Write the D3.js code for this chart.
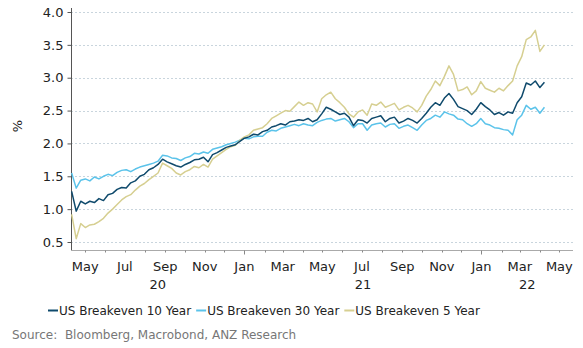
<!DOCTYPE html>
<html>
<head>
<meta charset="utf-8">
<script src="https://cdn.jsdelivr.net/npm/d3@7"></script>
<style>
	body { margin: 0; background: #fff; }
	svg { display: block; font-family: "DejaVu Sans", Verdana, sans-serif; }
</style>
</head>
<body>
<div id="chart"></div>
<script>
///////////////////////////////////////////////////////////////////////////
//////////////////////////// data /////////////////////////////////////////
///////////////////////////////////////////////////////////////////////////

// weekly observations, first one on 10 Apr 2020
const startDate = new Date(2020, 3, 10);

const be10 = [
	1.27, 0.97, 1.12, 1.08, 1.12, 1.10, 1.16, 1.13, 1.22, 1.24,
	1.30, 1.33, 1.32, 1.40, 1.43, 1.50, 1.53, 1.60, 1.63, 1.68,
	1.76, 1.72, 1.69, 1.66, 1.64, 1.68, 1.71, 1.75, 1.76, 1.79,
	1.72, 1.83, 1.86, 1.90, 1.94, 1.96, 1.98, 2.03, 2.08, 2.10,
	2.14, 2.13, 2.18, 2.20, 2.25, 2.27, 2.30, 2.28, 2.33, 2.34,
	2.36, 2.35, 2.38, 2.33, 2.36, 2.45, 2.55, 2.52, 2.48, 2.44,
	2.46, 2.40, 2.27, 2.36, 2.35, 2.31, 2.38, 2.40, 2.42, 2.33,
	2.38, 2.40, 2.31, 2.34, 2.38, 2.35, 2.31, 2.38, 2.46, 2.55,
	2.62, 2.58, 2.69, 2.76, 2.67, 2.56, 2.53, 2.50, 2.44, 2.52,
	2.62, 2.56, 2.51, 2.44, 2.47, 2.43, 2.48, 2.46, 2.62, 2.71,
	2.92, 2.89, 2.95, 2.85, 2.93
];

const be30 = [
	1.55, 1.32, 1.44, 1.46, 1.43, 1.49, 1.46, 1.50, 1.53, 1.51,
	1.56, 1.59, 1.60, 1.57, 1.61, 1.64, 1.66, 1.68, 1.70, 1.73,
	1.82, 1.81, 1.78, 1.77, 1.74, 1.78, 1.80, 1.85, 1.84, 1.87,
	1.85, 1.91, 1.93, 1.95, 1.98, 2.00, 2.02, 2.05, 2.08, 2.07,
	2.10, 2.11, 2.11, 2.17, 2.20, 2.19, 2.23, 2.25, 2.27, 2.29,
	2.27, 2.30, 2.28, 2.27, 2.32, 2.35, 2.37, 2.38, 2.34, 2.36,
	2.38, 2.33, 2.24, 2.30, 2.30, 2.20, 2.28, 2.30, 2.31, 2.25,
	2.29, 2.30, 2.23, 2.26, 2.28, 2.24, 2.20, 2.28, 2.35, 2.38,
	2.43, 2.40, 2.48, 2.45, 2.43, 2.37, 2.36, 2.30, 2.26, 2.30,
	2.38, 2.30, 2.28, 2.24, 2.23, 2.21, 2.20, 2.13, 2.36, 2.43,
	2.58, 2.52, 2.55, 2.46, 2.55
];

const be5 = [
	0.92, 0.55, 0.78, 0.72, 0.76, 0.77, 0.81, 0.86, 0.94, 1.00,
	1.07, 1.14, 1.19, 1.22, 1.29, 1.35, 1.39, 1.45, 1.50, 1.55,
	1.70, 1.66, 1.62, 1.55, 1.52, 1.57, 1.60, 1.65, 1.63, 1.68,
	1.64, 1.76, 1.81, 1.86, 1.91, 1.95, 1.97, 2.05, 2.10, 2.13,
	2.20, 2.22, 2.24, 2.30, 2.38, 2.42, 2.46, 2.50, 2.49, 2.56,
	2.63, 2.58, 2.62, 2.60, 2.48, 2.68, 2.74, 2.78, 2.68, 2.62,
	2.55, 2.45, 2.40, 2.48, 2.51, 2.43, 2.60, 2.58, 2.63, 2.55,
	2.58, 2.61, 2.51, 2.55, 2.58, 2.54, 2.48, 2.58, 2.72, 2.82,
	2.95, 2.88, 3.02, 3.18, 3.05, 2.80, 2.82, 2.86, 2.74, 2.80,
	2.94, 2.84, 2.81, 2.78, 2.84, 2.80, 2.88, 2.95, 3.18, 3.32,
	3.58, 3.62, 3.72, 3.40, 3.50
];

const seriesNames = ["US Breakeven 10 Year", "US Breakeven 30 Year", "US Breakeven 5 Year"];
const seriesColors = ["#0f4a6c", "#5bc3ea", "#d6cf91"];
const yTicks = [0.5, 1.0, 1.5, 2.0, 2.5, 3.0, 3.5, 4.0];
const sourceText = "Source:\u00a0\u00a0Bloomberg, Macrobond, ANZ Research";

const dates = be10.map((v, i) => d3.timeDay.offset(startDate, 7 * i));
const allSeries = [be10, be30, be5];

///////////////////////////////////////////////////////////////////////////
//////////////////////////// Set up svg ///////////////////////////////////
///////////////////////////////////////////////////////////////////////////

const width = 583;
const height = 348;
const margin = { top: 12, right: 10, left: 71 };
const axisY = 250; // bottom axis line

const svg = d3
	.select("#chart")
	.append("svg")
	.attr("width", width)
	.attr("height", height);

const xScale = d3
	.scaleTime()
	.domain([new Date(2020, 3, 9), new Date(2022, 4, 22)])
	.range([margin.left, width - margin.right]);

// 0.5 gridline sits a little above the bottom axis line
const yScale = d3.scaleLinear().domain([0.5, 4.0]).range([242, margin.top]);

///////////////////////////////////////////////////////////////////////////
//////////////////////////// grid + axes //////////////////////////////////
///////////////////////////////////////////////////////////////////////////

svg
	.append("g")
	.selectAll("line")
	.data(yTicks)
	.enter()
	.append("line")
	.attr("x1", margin.left)
	.attr("x2", width - margin.right)
	.attr("y1", (d) => Math.round(yScale(d)) + 0.5)
	.attr("y2", (d) => Math.round(yScale(d)) + 0.5)
	.attr("stroke", "#c9d5dd")
	.attr("stroke-dasharray", "2,2");

// y axis
const yAxis = d3
	.axisLeft(yScale)
	.tickValues(yTicks)
	.tickFormat(d3.format(".1f"))
	.tickSize(4)
	.tickPadding(4);

const gy = svg
	.append("g")
	.attr("transform", "translate(" + (margin.left + 0.5) + ",0)")
	.call(yAxis);
gy.select(".domain").attr("d", "M0,8V" + axisY).attr("stroke", "#555");
gy.selectAll(".tick line").attr("stroke", "#555");
gy.selectAll(".tick text")
	.attr("fill", "#222")
	.style("font-size", "13px")
	.style("font-family", "DejaVu Sans, Verdana, sans-serif");

// x axis: months, bigger tick at year start
const months = d3.timeMonth.range(new Date(2020, 4, 1), new Date(2022, 5, 1));
const gx = svg.append("g").attr("transform", "translate(0," + (axisY + 0.5) + ")");

gx.append("line")
	.attr("x1", margin.left)
	.attr("x2", width - margin.right)
	.attr("stroke", "#aaa");

gx.selectAll(".mtick")
	.data(months)
	.enter()
	.append("line")
	.attr("x1", (d) => Math.round(xScale(d)) + 0.5)
	.attr("x2", (d) => Math.round(xScale(d)) + 0.5)
	.attr("y1", 0)
	.attr("y2", (d) => (d.getMonth() === 0 ? 4 : 2))
	.attr("stroke", "#888");

gx.selectAll(".mlabel")
	.data(months.filter((d) => d.getMonth() % 2 === 0))
	.enter()
	.append("text")
	.attr("x", (d) => xScale(d))
	.attr("y", 20)
	.attr("text-anchor", "middle")
	.attr("fill", "#222")
	.style("font-size", "13px")
	.text(d3.timeFormat("%b"));

// year labels centred on visible part of each year
const years = [2020, 2021, 2022];
gx.selectAll(".ylabel")
	.data(years)
	.enter()
	.append("text")
	.attr("x", (d) => {
		const a = Math.max(xScale(new Date(d, 0, 1)), margin.left);
		const b = Math.min(xScale(new Date(d + 1, 0, 1)), width - margin.right);
		return (a + b) / 2;
	})
	.attr("y", 38)
	.attr("text-anchor", "middle")
	.attr("fill", "#222")
	.style("font-size", "13px")
	.text((d) => String(d).slice(2));

// y label
svg
	.append("text")
	.attr("transform", "translate(22,126) rotate(-90)")
	.attr("text-anchor", "middle")
	.attr("fill", "#222")
	.style("font-size", "13px")
	.text("%");

///////////////////////////////////////////////////////////////////////////
//////////////////////////// lines ////////////////////////////////////////
///////////////////////////////////////////////////////////////////////////

const line = d3
	.line()
	.x((d, i) => xScale(dates[i]))
	.y((d) => yScale(d));

// draw 30y first, then 5y, then 10y on top
[1, 2, 0].forEach((k) => {
	svg
		.append("path")
		.datum(allSeries[k])
		.attr("fill", "none")
		.attr("stroke", seriesColors[k])
		.attr("stroke-width", 1.5)
		.attr("stroke-linejoin", "round")
		.attr("d", line);
});

///////////////////////////////////////////////////////////////////////////
//////////////////////////// legend + source //////////////////////////////
///////////////////////////////////////////////////////////////////////////

const legend = svg.append("g").attr("transform", "translate(48,310)");
let lx = 0;
seriesNames.forEach((name, k) => {
	legend
		.append("line")
		.attr("x1", lx)
		.attr("x2", lx + 10)
		.attr("y1", 0.5)
		.attr("y2", 0.5)
		.attr("stroke", seriesColors[k])
		.attr("stroke-width", 2);
	const t = legend
		.append("text")
		.attr("x", lx + 11)
		.attr("y", 4.5)
		.attr("fill", "#222")
		.style("font-size", "12px")
		.text(name);
	lx += 11 + t.node().getComputedTextLength() + 5;
});

svg
	.append("text")
	.attr("x", 12)
	.attr("y", 339)
	.attr("fill", "#777")
	.style("font-size", "12px")
	.text(sourceText);
</script>
</body>
</html>
